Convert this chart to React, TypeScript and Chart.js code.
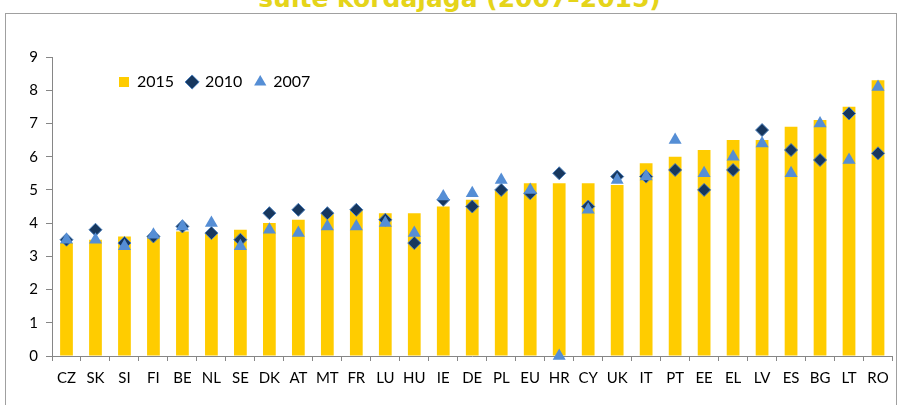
import React, { useEffect, useRef } from 'react';
import { Chart, registerables } from 'chart.js';

Chart.register(...registerables);

const categories = ['CZ', 'SK', 'SI', 'FI', 'BE', 'NL', 'SE', 'DK', 'AT', 'MT', 'FR', 'LU', 'HU', 'IE', 'DE', 'PL', 'EU', 'HR', 'CY', 'UK', 'IT', 'PT', 'EE', 'EL', 'LV', 'ES', 'BG', 'LT', 'RO'];
const values2015 = [3.4, 3.5, 3.6, 3.6, 3.75, 3.7, 3.8, 4.0, 4.1, 4.3, 4.4, 4.3, 4.3, 4.5, 4.7, 5.0, 5.2, 5.2, 5.2, 5.15, 5.8, 6.0, 6.2, 6.5, 6.5, 6.9, 7.1, 7.5, 8.3];
const values2010 = [3.5, 3.8, 3.4, 3.6, 3.9, 3.7, 3.5, 4.3, 4.4, 4.3, 4.4, 4.1, 3.4, 4.7, 4.5, 5.0, 4.9, 5.5, 4.5, 5.4, 5.4, 5.6, 5.0, 5.6, 6.8, 6.2, 5.9, 7.3, 6.1];
const values2007 = [3.5, 3.5, 3.3, 3.65, 3.9, 4.0, 3.3, 3.8, 3.7, 3.9, 3.9, 4.0, 3.7, 4.8, 4.9, 5.3, 5.0, 0, 4.4, 5.3, 5.4, 6.5, 5.5, 6.0, 6.4, 5.5, 7.0, 5.9, 8.1];
const seriesLabels = ['2015', '2010', '2007'];
const yTicks = [0, 1, 2, 3, 4, 5, 6, 7, 8, 9];
const titleText = 'sulte kordajaga (2007–2015)';

const FONT = 'Lato, "Open Sans", sans-serif';

const legendPlace = {
  id: 'legendPlace',
  afterInit(chart: any) {
    const lg = chart.legend;
    if (lg && !lg.__patched) {
      const orig = lg.fit.bind(lg);
      lg.fit = function () {
        orig();
        this.height = 0;
      };
      lg.__patched = true;
    }
  },
  afterLayout(chart: any) {
    const lg = chart.legend;
    if (lg) {
      lg.left = 106;
      lg.top = 61;
      lg.right = 890;
      lg.bottom = 105;
      lg.width = lg.right - lg.left;
      lg.height = lg.bottom - lg.top;
    }
  },
};

export default function App() {
  const canvasRef = useRef<HTMLCanvasElement | null>(null);

  useEffect(() => {
    document.body.style.margin = '0';
    const canvas = canvasRef.current;
    if (!canvas) return;
    const chart = new Chart(canvas, {
      type: 'bar',
      data: {
        labels: categories,
        datasets: [
          {
            type: 'bar',
            label: seriesLabels[0],
            data: values2015,
            backgroundColor: '#FFCC00',
            borderColor: '#FFCC00',
            borderWidth: 0,
            barPercentage: 0.44,
            categoryPercentage: 1,
            order: 3,
            pointStyle: 'rect',
          } as any,
          {
            type: 'line',
            label: seriesLabels[1],
            data: values2010,
            showLine: false,
            pointStyle: 'rectRot',
            pointRadius: 6.5,
            pointBackgroundColor: '#17375E',
            pointBorderColor: '#4A7EBB',
            pointBorderWidth: 1,
            backgroundColor: '#17375E',
            borderColor: '#4A7EBB',
            borderWidth: 1,
            order: 2,
            clip: false,
          } as any,
          {
            type: 'line',
            label: seriesLabels[2],
            data: values2007,
            showLine: false,
            pointStyle: 'triangle',
            pointRadius: 7.5,
            pointBackgroundColor: '#558ED5',
            pointBorderColor: '#558ED5',
            pointBorderWidth: 0,
            backgroundColor: '#558ED5',
            borderColor: '#558ED5',
            borderWidth: 0,
            order: 1,
            clip: false,
          } as any,
        ],
      },
      options: {
        responsive: false,
        animation: false,
        layout: { padding: { left: 0, right: 5, top: 57, bottom: 0 } },
        plugins: {
          title: { display: false },
          tooltip: { enabled: false },
          legend: {
            position: 'top',
            align: 'start',
            labels: {
              usePointStyle: true,
              boxWidth: 10,
              boxHeight: 10,
              padding: 13,
              color: '#000',
              font: { family: FONT, size: 16 },
              sort: (a: any, b: any) => a.datasetIndex - b.datasetIndex,
            },
          },
        },
        scales: {
          x: {
            offset: true,
            grid: {
              display: true,
              drawOnChartArea: false,
              offset: true,
              tickLength: 5,
              color: '#868686',
            },
            border: { color: '#868686', width: 1 },
            ticks: {
              color: '#000',
              font: { family: FONT, size: 15 },
              padding: 8,
              maxRotation: 0,
              autoSkip: false,
            },
            afterFit: (scale: any) => {
              scale.height = 49;
            },
          },
          y: {
            min: 0,
            max: 9,
            afterBuildTicks: (scale: any) => {
              scale.ticks = yTicks.map((v) => ({ value: v }));
            },
            grid: {
              display: true,
              drawOnChartArea: false,
              tickLength: 6,
              color: '#868686',
            },
            border: { color: '#868686', width: 1 },
            ticks: {
              color: '#000',
              font: { family: FONT, size: 15 },
              padding: 8,
            },
            afterFit: (scale: any) => {
              scale.width = 52;
            },
          },
        },
      },
      plugins: [legendPlace],
    });
    return () => chart.destroy();
  }, []);

  return (
    <div style={{ position: 'relative', width: 900, height: 405, overflow: 'hidden', background: '#fff' }}>
      <div
        style={{
          position: 'absolute',
          left: 5,
          top: 13,
          width: 892,
          height: 420,
          border: '1px solid #A0A0A0',
          boxSizing: 'border-box',
        }}
      />
      <div
        style={{
          position: 'absolute',
          left: 0,
          width: 919,
          top: -14,
          textAlign: 'center',
          fontFamily: '"DejaVu Sans", sans-serif',
          fontWeight: 'bold',
          fontSize: 25,
          lineHeight: '25px',
          color: '#E5D41A',
          whiteSpace: 'nowrap',
        }}
      >
        {titleText}
      </div>
      <canvas ref={canvasRef} width={900} height={405} style={{ position: 'absolute', left: 0, top: 0 }} />
    </div>
  );
}
